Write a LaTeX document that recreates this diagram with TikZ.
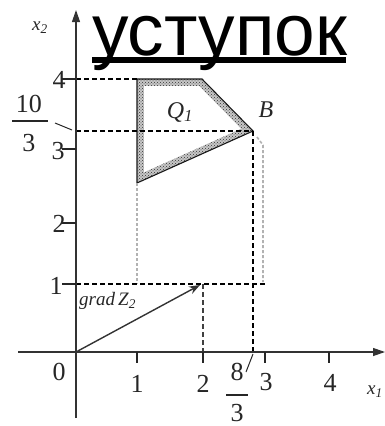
\documentclass[tikz,border=0pt]{standalone}
\usepackage{fontspec}
\setmainfont{Liberation Serif}
\newfontfamily\titlefont{Liberation Sans}
\usetikzlibrary{patterns,arrows.meta}
\begin{document}
\begin{tikzpicture}[x=1pt,y=-1pt,
  axis/.style={line width=1.2pt, black!80},
  tickmark/.style={line width=1.3pt, black!85},
  guide/.style={dash pattern=on 5pt off 3pt, line width=1.4pt, black},
  faint/.style={dash pattern=on 3pt off 2pt, line width=1.6pt, black!30},
  lab/.style={font=\fontsize{26}{26}\selectfont, inner sep=0pt, text=black!85},
  ilab/.style={font=\fontsize{24}{24}\selectfont\itshape, inner sep=0pt, text=black!85},
  leader/.style={line width=1pt, black!85},
]
\useasboundingbox (0,0) rectangle (385,426);

% title
\node[anchor=base west, inner sep=0pt] (title) at (92,55)
  {\titlefont\fontsize{73}{73}\selectfont уступок};
\draw[line width=5.5pt] (92,60) -- (346,60);

% coordinates
\coordinate (O) at (76,352);
\coordinate (xs) at (18,352);
\coordinate (xe) at (385,352);
\coordinate (yb) at (76,418);
\coordinate (yt) at (76,10);

% hatched polygon Q1
\coordinate (A) at (137,79);
\coordinate (C) at (202,79);
\coordinate (B) at (253,131);
\coordinate (D) at (137,183);
\fill[black!22] (A) -- (C) -- (B) -- (D) -- cycle;
\fill[pattern=crosshatch dots, pattern color=black!80] (A) -- (C) -- (B) -- (D) -- cycle;
\fill[white] (144,86) -- (199.1,86) -- (240.9,128.7) -- (144,172.2) -- cycle;
\draw[line width=1.1pt, black!90] (A) -- (C) -- (B) -- (D) -- cycle;

% faint guides
\draw[faint] (D) -- (137,284);
\draw[faint] (257,137) -- (263,145) -- (263,282);

% dashed guides
\coordinate (y4) at (76,79);
\coordinate (y103) at (76,131);
\coordinate (y1) at (76,284);
\coordinate (p1) at (266,284);
\coordinate (G) at (203,284);
\coordinate (Gx) at (203,352);
\coordinate (Bx) at (253,352);
\draw[guide] (y4) -- (A);
\draw[guide] (y103) -- (B);
\draw[guide] (B) -- (Bx);
\draw[guide] (y1) -- (p1);
\draw[guide, black!75] (G) -- (Gx);

% axes
\draw[axis, -{Triangle[length=12pt,width=8pt]}] (xs) -- (xe);
\draw[axis, -{Triangle[length=12pt,width=8pt]}] (yb) -- (yt);

% ticks
\foreach \x in {137,203,265,329} \draw[tickmark] (\x,352) -- (\x,363);
\foreach \y in {79,149,223,284} \draw[tickmark] (62,\y) -- (76,\y);

% gradient arrow
\draw[line width=1.4pt, black!80, -{Stealth[length=11pt,width=8pt]}] (O) -- (200,285);

% axis labels
\node[lab] (l0) at (59,372) {0};
\node[lab] (lx1) at (137,384) {1};
\node[lab] (lx2) at (203,384) {2};
\node[lab] (lx3) at (266,382) {3};
\node[lab] (lx4) at (330,383) {4};
\node[lab] (ly4) at (59,80) {4};
\node[lab] (ly3) at (58,151) {3};
\node[lab] (ly2) at (59,224) {2};
\node[lab] (ly1) at (56,286) {1};

% fraction 10/3
\node[lab] (f10) at (29,104) {10};
\draw[line width=1.2pt, black!85] (12,121) -- (48,121);
\node[lab] (f3a) at (29,143) {3};
\draw[leader] (55,123) -- (72,130);

% fraction 8/3
\node[lab] (f8) at (237,372) {8};
\draw[line width=1.2pt, black!85] (226,395) -- (248,395);
\node[lab] (f3b) at (237,413) {3};
\draw[leader] (246,372) -- (253,354);

% italic labels
\node[ilab, font=\fontsize{19}{19}\selectfont\itshape] (lx2ax) at (40,28) {x\textsubscript{2}};
\node[ilab, font=\fontsize{19}{19}\selectfont\itshape] (lx1ax) at (375,392) {x\textsubscript{1}};
\node[ilab] (lQ) at (180,112) {Q\textsubscript{1}};
\node[ilab] (lB) at (266,110) {B};
\node[ilab, font=\fontsize{19}{19}\selectfont\itshape, anchor=west] (lgrad) at (79,301) {grad\,Z\textsubscript{2}};
\end{tikzpicture}
\end{document}
